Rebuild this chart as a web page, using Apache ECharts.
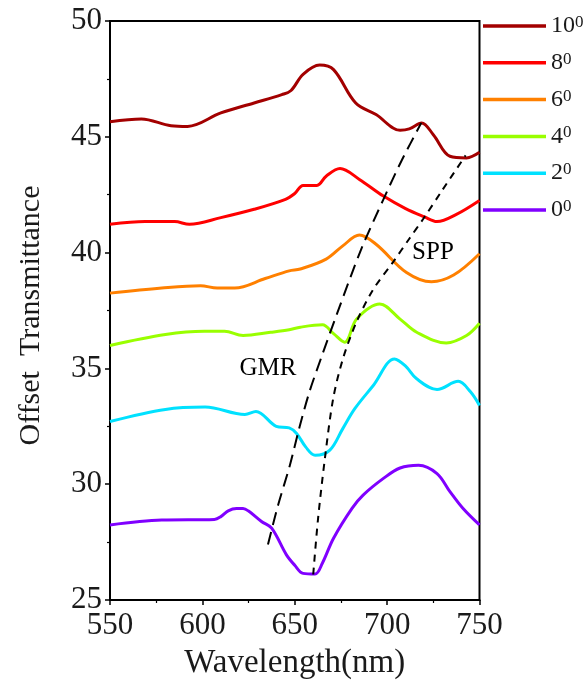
<!DOCTYPE html>
<html>
<head>
<meta charset="utf-8">
<script src="https://cdn.jsdelivr.net/npm/echarts@6/dist/echarts.min.js"></script>
<style>html,body{margin:0;padding:0;background:#fff}#c{width:587px;height:685px}</style>
</head>
<body>
<div id="c"></div>
<script>
// ---- data ----
const angles = ['10', '8', '6', '4', '2', '0'];
const colors = ['#a30000', '#ff0000', '#ff8000', '#99ff00', '#00e1ff', '#8000ff'];

const wl10 = [550, 567, 583, 592, 610, 628, 643, 648, 654.5, 663.5, 671, 683, 694, 707, 712, 718.7, 725, 734, 743, 750];
const t10  = [45.65, 45.77, 45.48, 45.45, 46.03, 46.46, 46.82, 47.0, 47.7, 48.1, 47.9, 46.46, 45.96, 45.28, 45.34, 45.6, 45.09, 44.16, 44.09, 44.33];

const wl8 = [550, 569, 585, 593, 610, 628, 645, 650, 654.5, 662, 667, 674.5, 685, 698, 710, 720, 727, 737.5, 750];
const t8  = [41.22, 41.34, 41.34, 41.22, 41.51, 41.87, 42.3, 42.55, 42.9, 42.9, 43.3, 43.63, 43.16, 42.44, 41.9, 41.55, 41.34, 41.65, 42.25];

const wl6 = [550, 578, 599, 608, 617.5, 634, 647, 653, 667, 676, 685, 694, 710.5, 724, 736, 750];
const t6  = [38.25, 38.47, 38.57, 38.47, 38.47, 38.88, 39.21, 39.29, 39.72, 40.29, 40.76, 40.36, 39.14, 38.74, 39.03, 39.95];

const wl4 = [550, 580, 601, 612, 622, 637, 647, 653, 665, 671, 677, 683.5, 696, 707, 716, 732, 743, 750];
const t4  = [35.99, 36.46, 36.6, 36.6, 36.42, 36.56, 36.67, 36.78, 36.88, 36.5, 36.13, 37.13, 37.78, 37.13, 36.56, 36.1, 36.42, 36.95];

const wl2 = [550, 580, 601.5, 623, 629, 640, 647, 651, 656, 661, 669, 676, 682.5, 692.5, 704, 710, 716, 727, 738.5, 745, 750];
const t2  = [32.71, 33.23, 33.33, 33.01, 33.14, 32.5, 32.43, 32.19, 31.6, 31.25, 31.47, 32.4, 33.26, 34.26, 35.41, 35.1, 34.55, 34.09, 34.44, 34.0, 33.4];

const wl0 = [550, 578, 606.5, 610, 614, 618.5, 622, 625, 632, 637.5, 645.5, 650, 654.5, 661, 665, 671, 681, 687, 698, 707, 717, 727, 734, 741, 750];
const t0  = [28.24, 28.45, 28.48, 28.6, 28.85, 28.95, 28.95, 28.84, 28.39, 28.1, 26.95, 26.5, 26.15, 26.12, 26.6, 27.67, 28.96, 29.53, 30.25, 30.7, 30.82, 30.46, 29.68, 28.96, 28.24];

// guide lines
const gmrWl = [635.5, 641, 647.3, 652.7, 658, 664.5, 672.6, 686, 698, 708, 718.5];
const gmrT  = [27.4, 29.1, 30.8, 32.5, 34.0, 35.5, 37.3, 40.15, 42.3, 44.0, 45.6];
const sppWl = [660, 662.6, 666.3, 670.8, 676.2, 683.4, 692.4, 703.3, 712, 719.5, 729.5, 742.5];
const sppT  = [26.1, 28.5, 31.1, 33.7, 35.45, 37.0, 38.4, 39.6, 40.6, 41.45, 42.65, 44.2];

// annotation labels
const annText = ['GMR', 'SPP'];
const annWl = [635.5, 724.8];
const annT = [35.0, 40.0];

// axis ticks
const xMin = 550, xMax = 750, xStep = 50;
const yMin = 25, yMax = 50, yStep = 5;

// ---- build ----
const wls = [wl10, wl8, wl6, wl4, wl2, wl0];
const ts = [t10, t8, t6, t4, t2, t0];
const zip = (a, b) => a.map((v, i) => [v, b[i]]);
const FONT = 'Liberation Serif';

const series = angles.map((a, i) => ({
  name: a,
  type: 'line',
  data: zip(wls[i], ts[i]),
  smooth: 0.35,
  showSymbol: false,
  symbol: 'none',
  lineStyle: { color: colors[i], width: 3 },
  itemStyle: { color: colors[i] },
  z: 3
}));
series.push({
  name: 'GMR-line', type: 'line', data: zip(gmrWl, gmrT), smooth: 0.3,
  showSymbol: false, symbol: 'none',
  lineStyle: { color: '#000', width: 2, type: [13, 7] }, z: 4
});
series.push({
  name: 'SPP-line', type: 'line', data: zip(sppWl, sppT), smooth: 0.3,
  showSymbol: false, symbol: 'none',
  lineStyle: { color: '#000', width: 2, type: [7, 6] }, z: 4
});
series.push({
  name: 'ann', type: 'scatter', symbolSize: 0, silent: true,
  data: annText.map((t, i) => ({ name: t, value: [annWl[i], annT[i]] })),
  label: { show: true, position: 'inside', formatter: p => p.name,
    fontFamily: FONT, fontSize: 25, color: '#000', opacity: 1 },
  z: 5
});

const chart = echarts.init(document.getElementById('c'), null, { renderer: 'canvas' });
chart.setOption({
  animation: false,
  backgroundColor: '#fff',
  grid: { left: 110, right: 107.5, top: 21, bottom: 83, show: true, borderColor: '#000', borderWidth: 2, backgroundColor: 'transparent' },
  legend: {
    data: angles,
    orient: 'vertical',
    left: 483, top: 14,
    padding: 0,
    icon: 'rect',
    itemWidth: 63, itemHeight: 3.5,
    itemGap: 9.8,
    formatter: n => '{b|' + n + '}{s|0}',
    textStyle: {
      color: '#1a1a1a',
      rich: {
        b: { fontFamily: FONT, fontSize: 24, lineHeight: 24, color: '#1a1a1a' },
        s: { fontFamily: FONT, fontSize: 17, lineHeight: 24, verticalAlign: 'top', padding: [0, 0, 10, 0], color: '#1a1a1a' }
      }
    }
  },
  xAxis: {
    type: 'value', min: xMin, max: xMax, interval: xStep,
    name: 'Wavelength(nm)', nameLocation: 'middle', nameGap: 47,
    nameTextStyle: { fontFamily: FONT, fontSize: 33, color: '#1a1a1a' },
    axisLine: { show: true, onZero: false, lineStyle: { color: '#000', width: 2 } },
    axisTick: { show: true, length: 5, lineStyle: { color: '#000', width: 1.5 } },
    minorTick: { show: true, splitNumber: 2, length: 3, lineStyle: { color: '#000', width: 1.2 } },
    splitLine: { show: false },
    axisLabel: { fontFamily: FONT, fontSize: 31, color: '#1a1a1a', margin: 10 }
  },
  yAxis: {
    type: 'value', min: yMin, max: yMax, interval: yStep,
    name: 'Offset  Transmittance', nameLocation: 'middle', nameGap: 64, nameRotate: 90,
    nameTextStyle: { fontFamily: FONT, fontSize: 30, color: '#1a1a1a', padding: [0, 10, 0, 0] },
    axisLine: { show: true, onZero: false, lineStyle: { color: '#000', width: 2 } },
    axisTick: { show: true, length: 5, lineStyle: { color: '#000', width: 1.5 } },
    minorTick: { show: true, splitNumber: 2, length: 3, lineStyle: { color: '#000', width: 1.2 } },
    splitLine: { show: false },
    axisLabel: { fontFamily: FONT, fontSize: 31, color: '#1a1a1a', margin: 8 }
  },
  series: series
});
</script>
</body>
</html>
